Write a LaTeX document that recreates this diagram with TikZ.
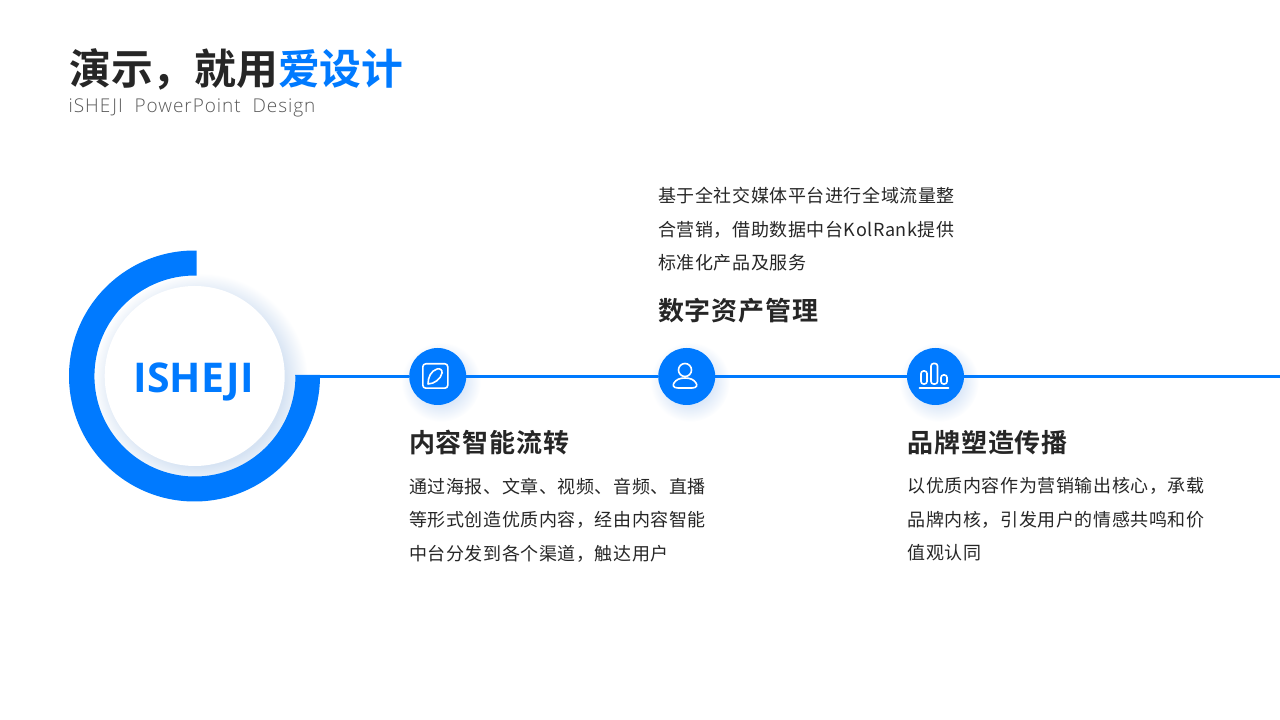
\documentclass[tikz,border=0pt]{standalone}
\usepackage{fontspec}
\setmainfont{Noto Sans CJK SC}
\newfontfamily\bodyfont[LetterSpace=3.2]{Noto Sans CJK SC}
\newfontfamily\headfont[LetterSpace=3]{Noto Sans CJK SC Bold}
\newfontfamily\titlefont{Noto Sans CJK SC Bold}
\newfontfamily\subfont[LetterSpace=5]{Open Sans Light}
\newfontfamily\hubfont{Open Sans Bold}
\definecolor{brandblue}{HTML}{007AFF}
\definecolor{inkdark}{HTML}{262626}
\definecolor{inkgrey}{HTML}{595959}
\definecolor{hubpale}{HTML}{D6E3F3}
\definecolor{iconpale}{HTML}{DCE8F8}
\pgfdeclareradialshading{hubshadow}{\pgfpointorigin}{color(0bp)=(hubpale);color(19.5bp)=(hubpale);color(25bp)=(white);color(50bp)=(white)}
\pgfdeclareradialshading{iconshadow}{\pgfpointorigin}{color(0bp)=(iconpale);color(14bp)=(iconpale);color(25bp)=(white);color(50bp)=(white)}
\tikzset{
  mainline/.style={draw=brandblue,line width=3pt},
  iconcircle/.style={circle,fill=brandblue,minimum size=57pt,inner sep=0pt,outer sep=0pt},
  glyph/.style={draw=white,line width=1.6pt,line join=round,line cap=round},
  headtext/.style={anchor=base west,inner sep=0pt,text=inkdark,font=\headfont\fontsize{26}{30}\selectfont},
  bodytext/.style={anchor=north west,inner sep=0pt,align=left,text=inkdark,font=\bodyfont\fontsize{18}{33.5}\selectfont}
}
\begin{document}
\begin{tikzpicture}[x=1pt,y=1pt]
  \useasboundingbox (0,0) rectangle (1280,720);
  % title
  \node[anchor=base west,inner sep=0pt,text=inkdark,font=\titlefont\fontsize{41.8}{50}\selectfont] (title) at (69,635) {演示，就用\textcolor{brandblue}{爱设计}};
  \node[anchor=base west,inner sep=0pt,text=inkgrey,font=\subfont\fontsize{19}{24}\selectfont] (subtitle) at (68.5,607.5) {iSHEJI\ \ PowerPoint\ \ Design};
  % soft shadows
  \shade[shading=hubshadow] (200,339) circle (108);
  \shade[shading=iconshadow] (441,338) circle (40);
  \shade[shading=iconshadow] (690,338) circle (40);
  \shade[shading=iconshadow] (939,338) circle (40);
  % ring and disc
  \fill[brandblue] (320,345) -- (320,344) arc (0:-271:125.5) -- ++(0,-25) arc (-271:0:100.5) -- (295,345) -- cycle;
  \node[circle,fill=white,minimum size=180pt,inner sep=0pt,outer sep=0pt] (hub) at (194.7,344) {};
  \node[inner sep=0pt,anchor=base,text=brandblue,font=\hubfont\fontsize{41}{50}\selectfont] (hublabel) at (193.7,327.5) {ISHEJI};
  % icons
  \node[iconcircle] (iconA) at (437.7,343.5) {};
  \node[iconcircle] (iconB) at (686.7,343.5) {};
  \node[iconcircle] (iconC) at (935.5,343.5) {};
  % line
  \coordinate (lineStart) at (320,343.5);
  \coordinate (lineEnd) at (1280,343.5);
  \draw[mainline] (lineStart) -- (iconA);
  \draw[mainline] (iconA) -- (iconB);
  \draw[mainline] (iconB) -- (iconC);
  \draw[mainline] (iconC) -- (lineEnd);
  % pencil glyph
  \draw[glyph,rounded corners=3pt] (422.8,331.8) rectangle (447.8,356.2);
  \draw[glyph] (428,336) .. controls (428,343) and (431,349) .. (437,351) .. controls (440,352) and (442.5,350) .. (442,347) .. controls (441,341) and (434,336) .. (428,336) -- cycle;
  % person glyph
  \draw[glyph] (685,350) circle (6.5);
  \draw[glyph] (678,332) -- (692,332) .. controls (697,332) and (697.5,335) .. (696,337) .. controls (694,340.5) and (690,342) .. (685,342) .. controls (680,342) and (676,340.5) .. (674,337) .. controls (672.5,335) and (673,332) .. (678,332) -- cycle;
  % bars glyph
  \draw[glyph] (919.5,332) -- (948.5,332);
  \draw[glyph,rounded corners=2.5pt] (921,336) rectangle (927,349);
  \draw[glyph,rounded corners=2.5pt] (931,336) rectangle (937.5,356.5);
  \draw[glyph,rounded corners=2.5pt] (941,336) rectangle (947,345);
  % texts
  \node[headtext] (headA) at (409,267) {内容智能流转};
  \node[headtext] (headB) at (658,399) {数字资产管理};
  \node[headtext] (headC) at (907.5,267) {品牌塑造传播};
  \node[bodytext] (bodyA) at (409,242.5) {通过海报、文章、视频、音频、直播\\等形式创造优质内容，经由内容智能\\中台分发到各个渠道，触达用户};
  \node[bodytext] (bodyB) at (658,533) {基于全社交媒体平台进行全域流量整\\合营销，借助数据中台KolRank提供\\标准化产品及服务};
  \node[bodytext] (bodyC) at (907.5,242.5) {以优质内容作为营销输出核心，承载\\品牌内核，引发用户的情感共鸣和价\\值观认同};
\end{tikzpicture}
\end{document}
